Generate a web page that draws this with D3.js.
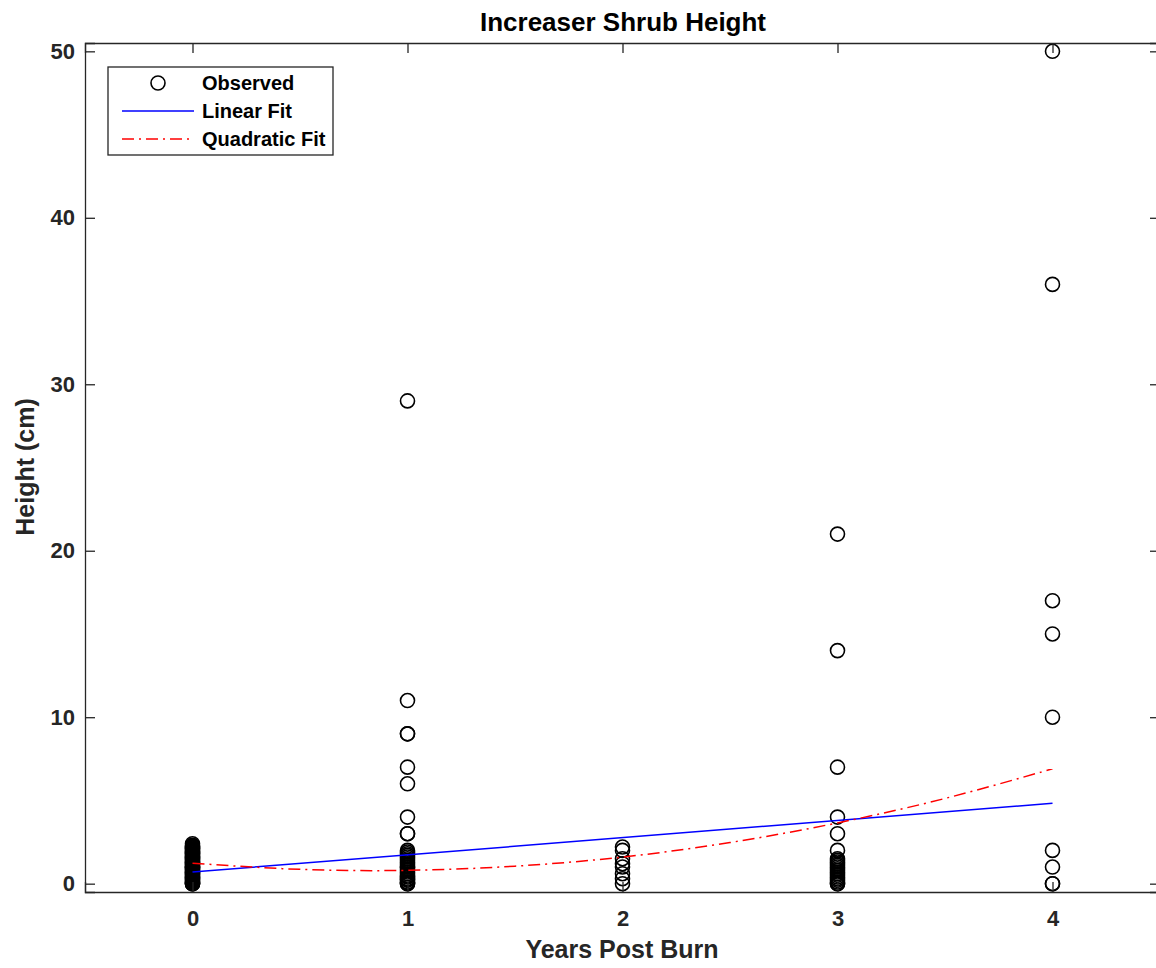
<!DOCTYPE html>
<html>
<head>
<meta charset="utf-8">
<script src="https://cdn.jsdelivr.net/npm/d3@7"></script>
<style>
  body { margin: 0; background: #fff; }
  text { font-family: "Liberation Sans", Arial, sans-serif; }
</style>
</head>
<body>
<svg id="chart" width="1156" height="968"></svg>
<script>
// observed heights per year post burn
var years = [0, 1, 2, 3, 4];
var obs0 = [0, 0, 0, 0.05, 0.1, 0.15, 0.2, 0.25, 0.3, 0.35, 0.4, 0.45, 0.5, 0.55, 0.6, 0.65, 0.7, 0.75, 0.8, 0.85, 0.9, 0.95, 1, 1, 1.05, 1.1, 1.15, 1.2, 1.25, 1.3, 1.35, 1.4, 1.45, 1.5, 1.55, 1.6, 1.65, 1.7, 1.75, 1.8, 1.85, 1.9, 1.95, 2, 2.05, 2.1, 2.15, 2.2, 2.25, 2.3, 2.4];
var obs1 = [29, 11, 9, 9, 7, 6, 4, 3, 3, 2, 1.9, 1.8, 1.7, 1.6, 1.5, 1.4, 1.3, 1.2, 1.1, 1, 1, 0.9, 0.8, 0.7, 0.6, 0.5, 0.45, 0.4, 0.3, 0.25, 0.2, 0.1, 0.05, 0, 0];
var obs2 = [2.2, 2, 1.5, 1.2, 1, 0.6, 0.3, 0];
var obs3 = [21, 14, 7, 4, 3, 2, 1.5, 1.4, 1.3, 1.2, 1.1, 1, 0.9, 0.8, 0.7, 0.6, 0.5, 0.4, 0.3, 0.2, 0.1, 0, 0];
var obs4 = [50, 36, 17, 15, 10, 2, 1, 0, 0];

// fitted curves
var linX = [0, 4];
var linY = [0.7, 4.83];
var quadX = [0, 0.5, 1, 1.5, 2, 2.5, 3, 3.5, 4];
var quadY = [1.23, 0.86, 0.8, 1.05, 1.6, 2.47, 3.65, 5.12, 6.9];

var xTicks = [0, 1, 2, 3, 4];
var yTicks = [0, 10, 20, 30, 40, 50];
var legendLabels = ["Observed", "Linear Fit", "Quadratic Fit"];

var svg = d3.select("#chart");
var L = 85, R = 1160, T = 43, B = 892;
var axisCol = "#262626";
var dashDot = "12,5,2,5";

var x = d3.scaleLinear().domain([-0.5, 4.5]).range([L, R]);
var y = d3.scaleLinear().domain([-0.5, 50.5]).range([B, T]);

var obsAll = [obs0, obs1, obs2, obs3, obs4];
var pts = [];
obsAll.forEach(function(arr, i){
  arr.forEach(function(v){ pts.push({x: years[i], y: v}); });
});

// points
svg.append("g").selectAll("circle").data(pts).enter().append("circle")
  .attr("cx", function(d){ return x(d.x); })
  .attr("cy", function(d){ return y(d.y); })
  .attr("r", 7)
  .attr("fill", "none")
  .attr("stroke", "#000")
  .attr("stroke-width", 1.6);

var line = d3.line().x(function(d){ return x(d[0]); }).y(function(d){ return y(d[1]); });

svg.append("path")
  .attr("d", line(d3.zip(linX, linY)))
  .attr("fill", "none").attr("stroke", "#0000ff").attr("stroke-width", 1.5);

svg.append("path")
  .attr("d", line.curve(d3.curveNatural)(d3.zip(quadX, quadY)))
  .attr("fill", "none").attr("stroke", "#ff0000").attr("stroke-width", 1.5)
  .attr("stroke-dasharray", dashDot);

// axes box, ticks inward on all sides
var axB = d3.axisBottom(x).tickValues(xTicks).tickSize(-10).tickFormat(d3.format("d"));
var axT = d3.axisTop(x).tickValues(xTicks).tickSize(-10).tickFormat("");
var axL = d3.axisLeft(y).tickValues(yTicks).tickSize(-10).tickFormat(d3.format("d"));
var axR = d3.axisRight(y).tickValues(yTicks).tickSize(-10).tickFormat("");

function styleAx(g){
  g.select(".domain").attr("stroke", axisCol).attr("stroke-width", 1.3);
  g.selectAll(".tick line").attr("stroke", axisCol).attr("stroke-width", 1.3);
  g.selectAll(".tick text").attr("fill", axisCol)
    .style("font-size", "22px").style("font-weight", "bold")
    .style("font-family", "'Liberation Sans', Arial, sans-serif");
}

svg.append("g").attr("transform", "translate(0," + B + ")").call(axB).call(styleAx)
  .selectAll(".tick text").attr("dy", "1.4em");
svg.append("g").attr("transform", "translate(0," + T + ")").call(axT).call(styleAx);
svg.append("g").attr("transform", "translate(" + L + ",0)").call(axL).call(styleAx)
  .selectAll(".tick text").attr("x", -10);
svg.append("g").attr("transform", "translate(" + R + ",0)").call(axR).call(styleAx);

// title and labels
svg.append("text").attr("x", 623).attr("y", 31).attr("text-anchor", "middle")
  .style("font-size", "26px").style("font-weight", "bold").attr("fill", "#000")
  .text("Increaser Shrub Height");
svg.append("text").attr("x", 622).attr("y", 958).attr("text-anchor", "middle")
  .style("font-size", "25px").style("font-weight", "bold").attr("fill", axisCol)
  .text("Years Post Burn");
svg.append("text").attr("transform", "translate(34,467) rotate(-90)").attr("text-anchor", "middle")
  .style("font-size", "25px").style("font-weight", "bold").attr("fill", axisCol)
  .text("Height (cm)");

// legend
var lg = svg.append("g");
lg.append("rect").attr("x", 108).attr("y", 67).attr("width", 225).attr("height", 88)
  .attr("fill", "#fff").attr("stroke", axisCol).attr("stroke-width", 1.3);
var rowY = [83, 111, 139];
lg.append("circle").attr("cx", 158).attr("cy", rowY[0]).attr("r", 7)
  .attr("fill", "none").attr("stroke", "#000").attr("stroke-width", 1.6);
lg.append("line").attr("x1", 122).attr("x2", 194).attr("y1", rowY[1]).attr("y2", rowY[1])
  .attr("stroke", "#0000ff").attr("stroke-width", 1.5);
lg.append("line").attr("x1", 122).attr("x2", 194).attr("y1", rowY[2]).attr("y2", rowY[2])
  .attr("stroke", "#ff0000").attr("stroke-width", 1.5).attr("stroke-dasharray", dashDot);
lg.selectAll("text.lab").data(legendLabels).enter().append("text")
  .attr("class", "lab")
  .attr("x", 202).attr("y", function(d, i){ return rowY[i]; }).attr("dy", "0.36em")
  .style("font-size", "20px").style("font-weight", "bold").attr("fill", "#000")
  .text(function(d){ return d; });
</script>
</body>
</html>
